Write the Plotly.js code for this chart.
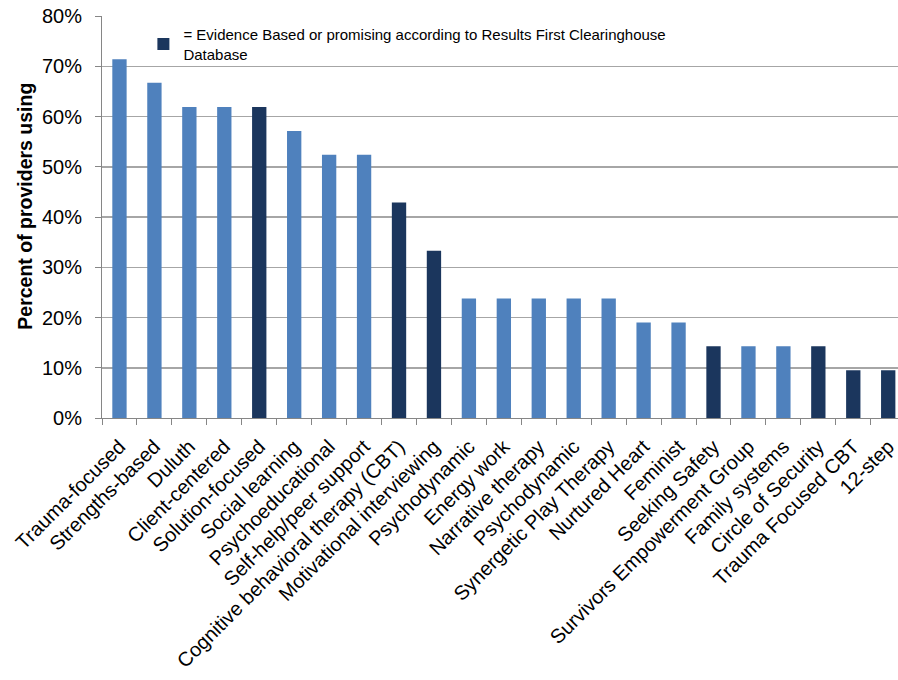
<!DOCTYPE html>
<html>
<head>
<meta charset="utf-8">
<script src="https://cdn.plot.ly/plotly-3.0.1.min.js"></script>
<style>html,body{margin:0;padding:0;background:#fff;}#chart{width:898px;height:680px;}</style>
</head>
<body>
<div id="chart"></div>
<script>
const categories = ["Trauma-focused","Strengths-based","Duluth","Client-centered","Solution-focused","Social learning","Psychoeducational","Self-help/peer support","Cognitive behavioral therapy (CBT)","Motivational interviewing","Psychodynamic","Energy work","Narrative therapy","Psychodynamic","Synergetic Play Therapy","Nurtured Heart","Feminist","Seeking Safety","Survivors Empowerment Group","Family systems","Circle of Security","Trauma Focused CBT","12-step"];
const values = [71.4,66.7,61.9,61.9,61.9,57.1,52.4,52.4,42.9,33.3,23.8,23.8,23.8,23.8,23.8,19.0,19.0,14.3,14.3,14.3,14.3,9.5,9.5];
const evidenceBased = [0,0,0,0,1,0,0,0,1,1,0,0,0,0,0,0,0,1,0,0,1,1,1];
const yTicks = [0,10,20,30,40,50,60,70,80];
const legendText = "= Evidence Based or promising according to Results First Clearinghouse<br>Database";

const idx = categories.map((_, i) => i);
const lightX = [], lightY = [], darkX = [], darkY = [];
idx.forEach(i => { if (evidenceBased[i]) { darkX.push(i); darkY.push(values[i]); } else { lightX.push(i); lightY.push(values[i]); } });

const traces = [
  {type:'bar', x: lightX, y: lightY, width: 0.41, marker:{color:'#4F81BD'}, showlegend:false, name:'Other'},
  {type:'bar', x: darkX, y: darkY, width: 0.41, marker:{color:'#1B365D'}, showlegend:true, name: legendText}
];

const layout = {
  width: 898, height: 680,
  margin: {l:102, r:0, t:16, b:262},
  paper_bgcolor:'#fff', plot_bgcolor:'#fff',
  barmode:'overlay',
  font: {family:'"Liberation Sans", Arial, sans-serif', color:'#000'},
  showlegend: true,
  legend: {x: 0.052, y: 0.995, xanchor:'left', yanchor:'top', bgcolor:'rgba(0,0,0,0)', font:{size:15}, itemwidth:30, tracegroupgap:0},
  xaxis: {
    range: [-0.5, 22.28],
    tickvals: idx, ticktext: categories,
    tickangle: -45, ticks:'', tickfont:{size:20},
    ticklabeloverflow:'allow', ticklabelstandoff: 8,
    showgrid:false, zeroline:false,
    showline:true, linecolor:'#868686', linewidth:1,
    minor: {tick0:-0.5, dtick:1, ticks:'outside', ticklen:6, tickcolor:'#868686', showgrid:false}
  },
  yaxis: {
    range:[0,80], tickvals: yTicks, ticktext: yTicks.map(v => v + '%'),
    tickfont:{size:20}, ticks:'outside', ticklen:6, tickcolor:'#868686',
    ticklabelstandoff: 9,
    showgrid:true, gridcolor:'#A6A6A6', gridwidth:1.5,
    zeroline:false, showline:true, linecolor:'#868686', linewidth:1,
    title:{text:'&nbsp;&nbsp;&nbsp;&nbsp;<b>Percent of providers using</b>', font:{size:19.5}, standoff:4}
  }
};
Plotly.newPlot('chart', traces, layout, {displayModeBar:false, staticPlot:true});
</script>
</body>
</html>
